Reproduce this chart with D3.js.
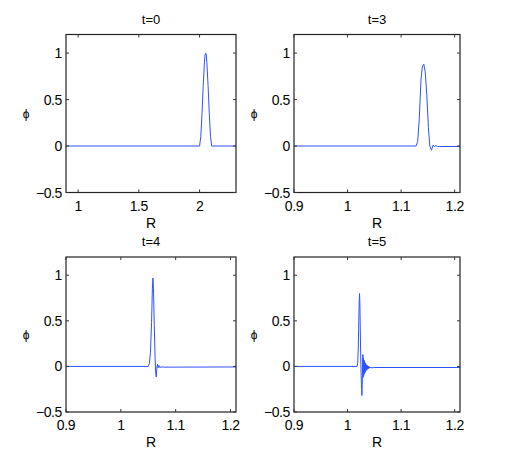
<!DOCTYPE html>
<html>
<head>
<meta charset="utf-8">
<script src="https://cdn.jsdelivr.net/npm/d3@7"></script>
<style>
  body { margin: 0; background: #fff; }
  svg text { font-family: "Liberation Sans", Arial, Helvetica, sans-serif; fill: #000; }
</style>
</head>
<body>
<div id="viz"></div>
<script>
// panel titles
var titles = ["t=0", "t=3", "t=4", "t=5"];

// x domains and ticks per panel
var xDomains = [[0.9, 2.3], [0.9, 1.21], [0.9, 1.21], [0.9, 1.21]];
var xTicks = [[1, 1.5, 2], [0.9, 1, 1.1, 1.2], [0.9, 1, 1.1, 1.2], [0.9, 1, 1.1, 1.2]];
var xTickLabels = [["1", "1.5", "2"], ["0.9", "1", "1.1", "1.2"], ["0.9", "1", "1.1", "1.2"], ["0.9", "1", "1.1", "1.2"]];

var yDomain = [-0.5, 1.2];
var yTicks = [-0.5, 0, 0.5, 1];
var yTickLabels = ["\u22120.5", "0", "0.5", "1"];

// t=0
var r0 = [0.9, 2.0, 2.01, 2.02, 2.03, 2.04, 2.045, 2.05, 2.055, 2.06, 2.07, 2.08, 2.09, 2.1, 2.3];
var phi0 = [0, 0, 0.1, 0.35, 0.65, 0.9, 0.98, 1, 0.98, 0.9, 0.65, 0.35, 0.1, 0, 0];

// t=3
var r3 = [0.9, 1.128, 1.131, 1.134, 1.137, 1.1395, 1.1424, 1.145, 1.148, 1.151, 1.1536, 1.1568, 1.1598, 1.162, 1.165, 1.168, 1.171, 1.21];
var phi3 = [0, 0, 0.05, 0.3, 0.7, 0.85, 0.88, 0.8, 0.55, 0.2, 0.0, -0.045, 0.01, -0.006, 0.004, -0.006, -0.005, -0.005];

// t=4
var r4 = [0.9, 1.05, 1.052, 1.054, 1.056, 1.0575, 1.0585, 1.0595, 1.061, 1.0625, 1.0635, 1.0645, 1.0655, 1.0668, 1.068, 1.0695, 1.071, 1.074, 1.08, 1.21];
var phi4 = [0, 0, 0.03, 0.15, 0.48, 0.85, 0.97, 0.85, 0.45, 0.08, -0.06, -0.115, -0.03, 0.025, -0.015, 0.01, -0.012, -0.006, -0.008, -0.006];

// t=5
var r5 = [0.9, 1.018, 1.019, 1.020, 1.021, 1.0218, 1.0224, 1.023, 1.0238, 1.0246, 1.0254, 1.0262, 1.0268, 1.0274, 1.028, 1.0287,
  1.0292, 1.0297, 1.0302, 1.0307, 1.0312, 1.0317, 1.0322, 1.0327, 1.0332, 1.0337, 1.0342, 1.0347, 1.0352, 1.0357, 1.0362,
  1.0368, 1.0374, 1.038, 1.0387, 1.0394, 1.0402, 1.041, 1.042, 1.043, 1.045, 1.05, 1.21];
var phi5 = [0, 0, 0.04, 0.2, 0.5, 0.72, 0.8, 0.7, 0.4, 0.1, -0.1, -0.25, -0.32, -0.2, 0.02, 0.13,
  -0.12, 0.09, -0.1, 0.07, -0.08, 0.06, -0.07, 0.04, -0.06, 0.03, -0.05, 0.02, -0.04, 0.015, -0.035,
  0.01, -0.03, 0.005, -0.025, 0, -0.02, -0.005, -0.018, -0.01, -0.015, -0.012, -0.012];

var series = [[r0, phi0], [r3, phi3], [r4, phi4], [r5, phi5]];

var width = 507, height = 463;
var cols = [[66, 236], [294, 460]];
var rows = [[34.5, 192.5], [257, 412]];

var svg = d3.select("#viz").append("svg")
    .attr("width", width)
    .attr("height", height);

series.forEach(function(s, i) {
  var c = cols[i % 2], r = rows[Math.floor(i / 2)];
  var x = d3.scaleLinear().domain(xDomains[i]).range(c);
  var y = d3.scaleLinear().domain(yDomain).range([r[1], r[0]]);
  var g = svg.append("g");

  var line = d3.line()
      .x(function(d) { return x(d[0]); })
      .y(function(d) { return y(d[1]); });

  g.append("path")
      .datum(d3.zip(s[0], s[1]))
      .attr("d", line)
      .attr("fill", "none")
      .attr("stroke", "#2f52ff")
      .attr("stroke-width", 1);

  // box
  g.append("rect")
      .attr("x", c[0]).attr("y", r[0])
      .attr("width", c[1] - c[0]).attr("height", r[1] - r[0])
      .attr("fill", "none")
      .attr("stroke", "#222")
      .attr("stroke-width", 1.2);

  // inward ticks on all four sides
  xTicks[i].forEach(function(t) {
    g.append("line").attr("x1", x(t)).attr("x2", x(t)).attr("y1", r[1]).attr("y2", r[1] - 3).attr("stroke", "#333");
    g.append("line").attr("x1", x(t)).attr("x2", x(t)).attr("y1", r[0]).attr("y2", r[0] + 3).attr("stroke", "#333");
  });
  yTicks.forEach(function(t) {
    g.append("line").attr("x1", c[0]).attr("x2", c[0] + 3).attr("y1", y(t)).attr("y2", y(t)).attr("stroke", "#333");
    g.append("line").attr("x1", c[1]).attr("x2", c[1] - 3).attr("y1", y(t)).attr("y2", y(t)).attr("stroke", "#333");
  });

  g.selectAll(".xl").data(xTicks[i]).enter().append("text")
      .attr("x", function(d) { return x(d); })
      .attr("y", r[1] + 18)
      .attr("text-anchor", "middle")
      .style("font-size", "14px")
      .style("letter-spacing", "-0.4px")
      .text(function(d, j) { return xTickLabels[i][j]; });

  g.selectAll(".yl").data(yTicks).enter().append("text")
      .attr("x", c[0] - 4)
      .attr("y", function(d) { return y(d); })
      .attr("dy", "0.36em")
      .attr("text-anchor", "end")
      .style("font-size", "14px")
      .style("letter-spacing", "-0.4px")
      .text(function(d, j) { return yTickLabels[j]; });

  g.append("text")
      .attr("x", (c[0] + c[1]) / 2)
      .attr("y", r[0] - 11)
      .attr("text-anchor", "middle")
      .style("font-size", "13px")
      .text(titles[i]);

  g.append("text")
      .attr("x", (c[0] + c[1]) / 2)
      .attr("y", r[1] + 35)
      .attr("text-anchor", "middle")
      .style("font-size", "14px")
      .text("R");

  g.append("text")
      .attr("x", c[0] - 40)
      .attr("y", (r[0] + r[1]) / 2)
      .attr("dy", "0.35em")
      .attr("text-anchor", "middle")
      .style("font-size", "12px")
      .text("\u03d5");
});
</script>
</body>
</html>
